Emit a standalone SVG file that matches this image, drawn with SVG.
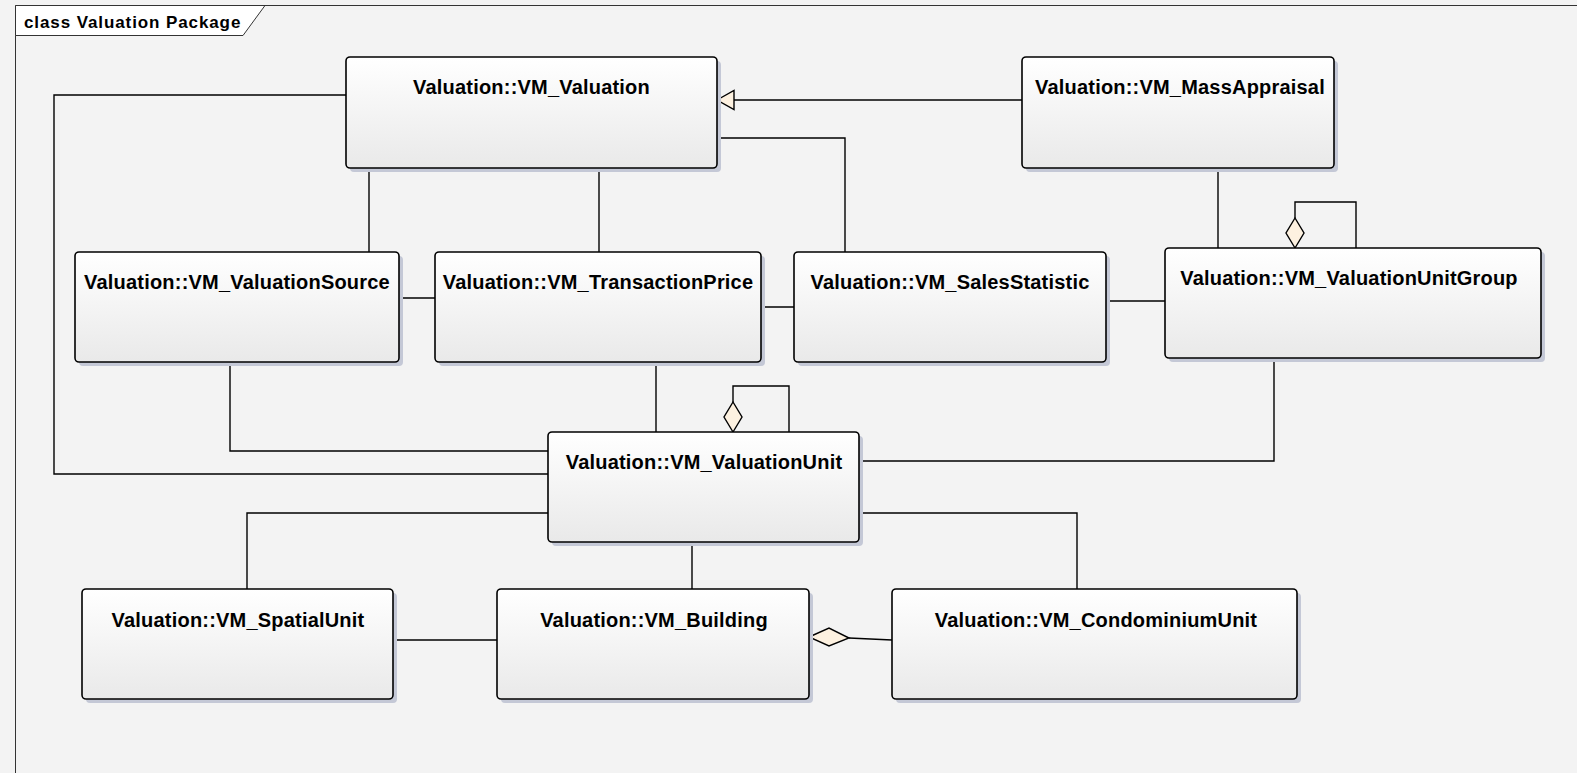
<svg xmlns="http://www.w3.org/2000/svg" width="1577" height="773" viewBox="0 0 1577 773">
<defs>
<linearGradient id="g" x1="0" y1="0" x2="0" y2="1">
<stop offset="0" stop-color="#ffffff"/>
<stop offset="1" stop-color="#e9e9e9"/>
</linearGradient>
<style>
.box{fill:url(#g);stroke:#000;stroke-width:1.6}
.sh{fill:#c4c8d6}
.t{font-family:"Liberation Sans",Arial,sans-serif;font-weight:bold;font-size:20px;letter-spacing:0.2px;fill:#000;text-anchor:middle}
.c{fill:none;stroke:#000;stroke-width:1.4}
.dia{fill:#fdf1e0;stroke:#000;stroke-width:1.4}
</style>
</defs>
<rect width="1577" height="773" fill="#f3f3f3"/>
<g id="frame">
<path d="M15.5 773 V5.5 H1577" fill="none" stroke="#333" stroke-width="1"/>
<path d="M15.5 5.5 H265 L243 35.5 H15.5 Z" fill="#fff" stroke="#333" stroke-width="1"/>
<text x="24" y="27.5" font-family="Liberation Sans,Arial,sans-serif" font-weight="bold" font-size="17" letter-spacing="0.9" fill="#000">class Valuation Package</text>
</g>
<g id="connectors">
<path class="c" d="M346 95 H54 V474 H548"/>
<path class="c" d="M1022 100 H734"/>
<path class="dia" d="M717 100 L734 90.5 V109.5 Z"/>
<path class="c" d="M717 138 H845 V252"/>
<path class="c" d="M369 168 V252"/>
<path class="c" d="M599 168 V252"/>
<path class="c" d="M399 298 H435"/>
<path class="c" d="M761 307 H794"/>
<path class="c" d="M1106 301 H1165"/>
<path class="c" d="M1218 168 V248"/>
<path class="c" d="M1295 218 V202 H1356 V248"/>
<path class="dia" d="M1295 248 L1286 233 L1295 218 L1304 233 Z"/>
<path class="c" d="M230 362 V451 H548"/>
<path class="c" d="M656 362 V432"/>
<path class="c" d="M733 402 V386 H789 V432"/>
<path class="dia" d="M733 432 L724 417 L733 402 L742 417 Z"/>
<path class="c" d="M1274 358 V461 H859"/>
<path class="c" d="M548 513 H247 V589"/>
<path class="c" d="M692 542 V589"/>
<path class="c" d="M859 513 H1077 V589"/>
<path class="c" d="M393 640 H497"/>
<path class="c" d="M849 638 L892 640"/>
<path class="dia" d="M809 637 L829 628 L849 638 L829 646 Z"/>
</g>
<g id="VM_Valuation">
<rect class="sh" x="350" y="61" width="371" height="111" rx="4"/>
<rect class="box" x="346" y="57" width="371" height="111" rx="4"/>
<text class="t" x="531.5" y="94">Valuation::VM_Valuation</text>
</g>
<g id="VM_MassAppraisal">
<rect class="sh" x="1026" y="61" width="312" height="111" rx="4"/>
<rect class="box" x="1022" y="57" width="312" height="111" rx="4"/>
<text class="t" x="1180" y="94">Valuation::VM_MassAppraisal</text>
</g>
<g id="VM_ValuationSource">
<rect class="sh" x="79" y="256" width="324" height="110" rx="4"/>
<rect class="box" x="75" y="252" width="324" height="110" rx="4"/>
<text class="t" x="237" y="289">Valuation::VM_ValuationSource</text>
</g>
<g id="VM_TransactionPrice">
<rect class="sh" x="439" y="256" width="326" height="110" rx="4"/>
<rect class="box" x="435" y="252" width="326" height="110" rx="4"/>
<text class="t" x="598" y="289">Valuation::VM_TransactionPrice</text>
</g>
<g id="VM_SalesStatistic">
<rect class="sh" x="798" y="256" width="312" height="110" rx="4"/>
<rect class="box" x="794" y="252" width="312" height="110" rx="4"/>
<text class="t" x="950" y="289">Valuation::VM_SalesStatistic</text>
</g>
<g id="VM_ValuationUnitGroup">
<rect class="sh" x="1169" y="252" width="376" height="110" rx="4"/>
<rect class="box" x="1165" y="248" width="376" height="110" rx="4"/>
<text class="t" x="1349" y="285">Valuation::VM_ValuationUnitGroup</text>
</g>
<g id="VM_ValuationUnit">
<rect class="sh" x="552" y="436" width="311" height="110" rx="4"/>
<rect class="box" x="548" y="432" width="311" height="110" rx="4"/>
<text class="t" x="704" y="469">Valuation::VM_ValuationUnit</text>
</g>
<g id="VM_SpatialUnit">
<rect class="sh" x="86" y="593" width="311" height="110" rx="4"/>
<rect class="box" x="82" y="589" width="311" height="110" rx="4"/>
<text class="t" x="238" y="627">Valuation::VM_SpatialUnit</text>
</g>
<g id="VM_Building">
<rect class="sh" x="501" y="593" width="312" height="110" rx="4"/>
<rect class="box" x="497" y="589" width="312" height="110" rx="4"/>
<text class="t" x="654" y="627">Valuation::VM_Building</text>
</g>
<g id="VM_CondominiumUnit">
<rect class="sh" x="896" y="593" width="405" height="110" rx="4"/>
<rect class="box" x="892" y="589" width="405" height="110" rx="4"/>
<text class="t" x="1096" y="627">Valuation::VM_CondominiumUnit</text>
</g>
</svg>
